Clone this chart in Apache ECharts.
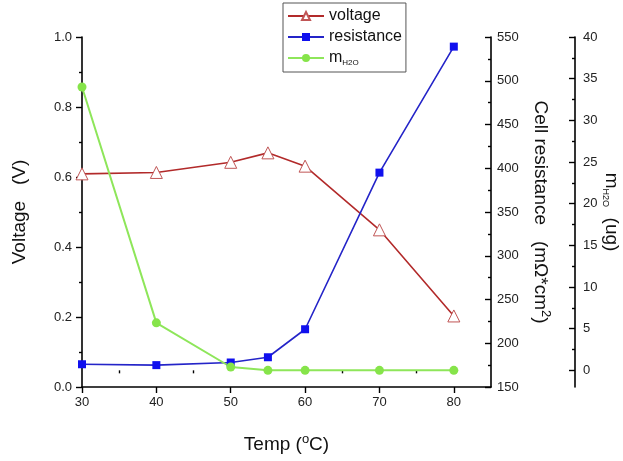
<!DOCTYPE html>
<html>
<head>
<meta charset="utf-8">
<script src="https://cdn.jsdelivr.net/npm/echarts@6/dist/echarts.min.js"></script>
<style>html,body{margin:0;padding:0;background:#fff}#c{width:623px;height:461px}</style>
</head>
<body>
<div id="c"></div>
<script>
const temps = [30, 40, 50, 55, 60, 70, 80];
const voltage = [0.609, 0.613, 0.642, 0.669, 0.631, 0.449, 0.203];
const resistance = [176, 175, 178, 184, 216, 395, 539];
const mH2O = [34.0, 5.7, 0.4, 0, 0, 0, 0];
const xLabels = [30, 40, 50, 60, 70, 80];
const xMinor = [35, 45, 55, 65, 75];
const mLabels = [0, 5, 10, 15, 20, 25, 30, 35, 40];
const mMinor = [2.5, 7.5, 12.5, 17.5, 22.5, 27.5, 32.5, 37.5];

const FONT = 'Liberation Sans, Arial, sans-serif';
const pair = arr => temps.map((t, i) => [t, arr[i]]);
const lineStyleAx = { color: '#000', width: 1.6 };
const lbl = { color: '#222', fontSize: 13, fontFamily: FONT };
const nameStyle = {
  color: '#111', fontSize: 19, fontFamily: FONT,
  rich: {
    n: { fontSize: 19, fontFamily: FONT, color: '#111' },
    sup: { fontSize: 13, fontFamily: FONT, color: '#111', padding: [0, 0, 11, 0] },
    sub: { fontSize: 9, fontFamily: FONT, color: '#111', padding: [12, 0, 0, 0] }
  }
};

const chart = echarts.init(document.getElementById('c'), null, { renderer: 'canvas' });
chart.setOption({
  animation: false,
  backgroundColor: '#fff',
  grid: { left: 82, right: 132, top: 37, bottom: 74, containLabel: false, outerBoundsMode: 'none' },
  legend: {
    orient: 'vertical', left: 283, top: 3,
    borderColor: '#555', borderWidth: 1, padding: [5, 4, 5, 4],
    itemGap: 5, itemWidth: 36, itemHeight: 10,
    textStyle: {
      fontSize: 16, fontFamily: FONT, color: '#111',
      rich: {
        n: { fontSize: 16, fontFamily: FONT, color: '#111' },
        sub: { fontSize: 8, fontFamily: FONT, color: '#111', padding: [10, 0, 0, 0] }
      }
    },
    formatter: n => n === 'mH2O' ? '{n|m}{sub|H2O}' : n,
    data: ['voltage', 'resistance', 'mH2O']
  },
  xAxis: [{
    type: 'value', min: 30, max: 85,
    name: 'Temp ({sup|o}C)', nameLocation: 'middle', nameGap: 46, nameTextStyle: nameStyle,
    axisLine: { lineStyle: lineStyleAx },
    axisTick: { show: true, length: 6, customValues: xLabels, lineStyle: { color: '#000', width: 1.4 } },
    axisLabel: Object.assign({ margin: 9, customValues: xLabels }, lbl),
    splitLine: { show: false }
  }, {
    type: 'value', min: 30, max: 85, position: 'bottom',
    axisLine: { show: false },
    axisTick: { show: true, length: 3, customValues: xMinor, lineStyle: { color: '#000', width: 1.4 } },
    axisLabel: { show: false }, splitLine: { show: false }
  }],
  yAxis: [{
    type: 'value', min: 0, max: 1, interval: 0.2, position: 'left',
    name: 'Voltage   (V)', nameLocation: 'middle', nameGap: 53, nameTextStyle: nameStyle,
    axisLine: { show: true, lineStyle: lineStyleAx },
    axisTick: { show: true, length: 6, lineStyle: { color: '#000', width: 1.4 } },
    minorTick: { show: true, splitNumber: 2, length: 3, lineStyle: { color: '#000', width: 1.4 } },
    axisLabel: Object.assign({ margin: 10, formatter: v => v.toFixed(1) }, lbl),
    splitLine: { show: false }
  }, {
    type: 'value', min: 150, max: 550, interval: 50, position: 'right',
    name: 'Cell resistance   (m\u03A9*cm{sup|2})', nameLocation: 'middle', nameRotate: -90, nameGap: 37,
    nameMoveOverlap: false,
    nameTextStyle: nameStyle,
    axisLine: { show: true, lineStyle: lineStyleAx },
    axisTick: { show: true, inside: true, length: 6, lineStyle: { color: '#000', width: 1.4 } },
    minorTick: { show: true, splitNumber: 2, length: 3, lineStyle: { color: '#000', width: 1.4 } },
    axisLabel: Object.assign({ margin: 6 }, lbl),
    splitLine: { show: false }
  }, {
    type: 'value', min: -2, max: 40, position: 'right', offset: 84,
    name: '{n|m}{sub|H2O}  (ug)', nameLocation: 'middle', nameRotate: -90, nameGap: 26,
    nameMoveOverlap: false,
    nameTextStyle: nameStyle,
    axisLine: { show: true, lineStyle: lineStyleAx },
    axisTick: { show: true, inside: true, length: 6, customValues: mLabels, lineStyle: { color: '#000', width: 1.4 } },
    axisLabel: Object.assign({ margin: 8, customValues: mLabels }, lbl),
    splitLine: { show: false }
  }, {
    type: 'value', min: -2, max: 40, position: 'right', offset: 84,
    axisLine: { show: false },
    axisTick: { show: true, inside: true, length: 3, customValues: mMinor, lineStyle: { color: '#000', width: 1.4 } },
    axisLabel: { show: false }, splitLine: { show: false }
  }],
  series: [{
    name: 'voltage', type: 'line', xAxisIndex: 0, yAxisIndex: 0, data: pair(voltage),
    symbol: 'triangle', symbolSize: 12,
    lineStyle: { color: '#b22a2a', width: 1.6 },
    itemStyle: { color: '#fff', borderColor: '#c05555', borderWidth: 1 }
  }, {
    name: 'resistance', type: 'line', xAxisIndex: 0, yAxisIndex: 1, data: pair(resistance),
    symbol: 'rect', symbolSize: 8,
    lineStyle: { color: '#2424c8', width: 1.6 },
    itemStyle: { color: '#1010ee', borderColor: '#1010ee', borderWidth: 0 }
  }, {
    name: 'mH2O', type: 'line', xAxisIndex: 0, yAxisIndex: 2, data: pair(mH2O),
    symbol: 'circle', symbolSize: 9,
    lineStyle: { color: '#8ee65a', width: 2 },
    itemStyle: { color: '#86e44a', borderWidth: 0 }
  }]
});
</script>
</body>
</html>
